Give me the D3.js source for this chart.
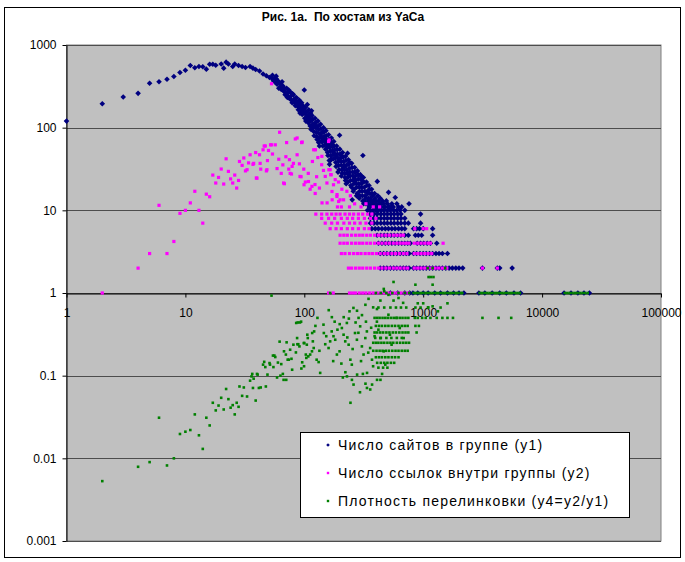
<!DOCTYPE html>
<html>
<head>
<meta charset="utf-8">
<script src="https://cdn.jsdelivr.net/npm/d3@7"></script>
<style>
  body { margin: 0; background: #fff; }
  text { font-family: "Liberation Sans", Arial, sans-serif; }
</style>
</head>
<body>
<svg id="chart" width="685" height="562"></svg>
<script>
// Axis ticks
var xTicks = [1, 10, 100, 1000, 10000, 100000];
var yTicks = [0.001, 0.01, 0.1, 1, 10, 100, 1000];
var yTickLabels = ["0.001", "0.01", "0.1", "1", "10", "100", "1000"];

var seriesNames = [
  "Число сайтов в группе (y1)",
  "Число ссылок внутри группы (y2)",
  "Плотность перелинковки (y4=y2/y1)"
];

// y1: number of sites in a group, single points [x, y]
var sitesPoints = [
  [1,120],[2,195],[3,235],[4,260],[5,345],[6,360],[7,385],[8,415],[9,465],[10,495],[11,565],[12,530],
  [13,550],[14,545],[15,510],[16,585],[17,585],[18,570],[20,590],[21,525],[22,620],[23,590],[25,550],
  [26,590],[28,565],[30,550],[32,535],[35,550],[37,525],[39,505],[42,485],[45,445],[48,425],[51,405],
  [53,400],[54,430],[55,370],[56,390],[57,355],[58,420],[59,335],[60,370],[61,300],[62,345],[63,315],
  [64,290],[65,360],[66,320],[67,280],[68,300],[69,250],[70,265],[71,300],[72,260],[73,240],[74,285],
  [75,225],[76,270],[77,240],[78,215],[79,200],[80,255],[81,250],[82,220],[83,200],[84,185],[85,230],
  [86,230],[87,200],[88,180],[89,165],[90,210],[91,215],[92,190],[93,170],[94,155],[95,200],[96,145],
  [97,185],[98,165],[99,150],[100,285],[101,130],[102,175],[103,120],[104,155],[105,140],[106,190],
  [107,125],[108,115],[109,165],[110,145],[111,130],[112,105],[113,150],[114,95],[115,160],[116,140],
  [117,125],[118,110],[119,100],[120,90],[121,80],[123,130],[124,115],[125,100],[126,88],[127,78],
  [128,72],[130,120],[131,105],[132,95],[133,85],[134,75],[135,68],[137,110],[138,97],[139,86],[140,76],
  [141,67],[143,60],[145,100],[146,88],[147,78],[148,70],[149,62],[151,55],[152,92],[153,80],[154,72],
  [155,64],[156,57],[157,50],[158,46],[160,82],[161,72],[162,65],[163,36],[164,58],[165,52],[167,46],
  [168,42],[169,75],[170,66],[172,59],[173,53],[174,47],[176,42],[177,68],[178,60],[180,54],[181,48],
  [182,43],[184,38],[185,34],[187,60],[189,54],[190,48],[191,43],[193,39],[194,35],[196,31],[198,81],
  [199,55],[200,48],[202,43],[204,39],[205,35],[207,31],[208,28],[210,50],[212,44],[214,39],[216,35],
  [217,31],[219,28],[220,25],[222,45],[224,40],[226,35],[228,31],[229,28],[231,49],[232,25],[233,22],
  [235,41],[237,36],[239,32],[241,29],[243,26],[245,23],[246,20],[250,37],[252,33],[253,13.4],[255,29],
  [257,26],[259,23],[261,21],[263,18],[265,33],[267,29],[269,26],[271,23],[274,21],[276,19],[278,16],
  [280,30],[283,27],[285,24],[288,21],[290,19],[292,17],[294,15],[296,27],[299,24],[302,21],[304,19],
  [306,17],[308,15],[310,13],[311,46],[314,25],[317,22],[320,19],[323,17],[326,15],[328,14],[330,12],
  [333,22],[336,20],[339,17],[342,16],[345,14],[347,13],[350,20],[353,18],[356,16],[359,14],[362,13],
  [365,12],[368,18],[372,16],[376,15],[379,13],[382,12],[386,11],[390,16],[394,14],[398,13],[402,12],
  [406,11],[411,22.4],[415,15],[420,13],[425,12],[430,11],[435,14],[440,12],[445,11],[455,13],[465,12],
  [475,11],[490,13],[500,12],[511,16.5],[520,11],[545,12],[560,11],[582,14.3],[600,12],[620,11],
  [660,11],[760,12],
  [58,390],[63,340],[68,272],[72,232],[78,262],[84,212],[90,182],[96,176],[102,152],[108,136],
  [114,121],[120,108],[126,104],[132,66],[138,79],[144,73],[150,69],[158,61],[166,40],[175,51],
  [185,46],[195,42],[205,26],[215,33],[225,21],[238,27],[250,19],[262,24],[275,15],[290,14],
  [305,23],[320,13],[340,12],[352,11],[372,12],[134,60],[162,40],[192,29],[222,23],[258,17],
  [284,15],[316,12],[92,150],[112,120],[142,88],[172,62],[204,46],[240,38],[270,29],[300,26]
];

// y1 values that repeat along a row: [y, [x...]]
var sitesRows = [
  [11, [355, 380, 410, 440, 470, 505, 540]],
  [10, [340, 360, 380, 400, 420, 445, 470, 500, 530, 565, 600, 640, 700]],
  [9, [360, 385, 410, 440, 470, 500, 535, 570, 610, 650, 950]],
  [8, [360, 385, 410, 440, 470, 500, 535, 570, 610, 650, 700]],
  [7, [360, 385, 410, 440, 470, 500, 535, 570, 610, 650, 700, 750, 950]],
  [6, [370, 395, 420, 450, 480, 510, 545, 580, 620, 660, 700, 830, 880, 930, 1000, 1200]],
  [5, [410, 440, 470, 500, 535, 570, 610, 650, 700, 750, 860, 910, 970, 1200]],
  [4, [420, 450, 480, 510, 545, 580, 620, 660, 700, 740, 780, 890, 950, 1010, 1080, 1150, 1300]],
  [3, [435, 465, 495, 530, 565, 600, 640, 680, 720, 760, 830, 880, 940, 1000, 1060, 1130, 1200,
       1280, 1360, 1450, 1600]],
  [2, [435, 465, 495, 530, 565, 600, 640, 680, 720, 760, 830, 880, 940, 1000, 1060, 1130, 1200,
       1280, 1360, 1450, 1550, 1650, 1760, 1880, 2000, 2150, 3150, 4200, 4400, 5600]],
  [1, [530, 610, 700, 770, 820, 900, 1000, 1100, 1250, 1400, 1600, 1800, 2000, 2200, 2940, 3300,
       3800, 4400, 5000, 5800, 6600, 15300, 17500, 20000, 22500, 25000]]
];

// y2: links inside a group, single points [x, y]
var linksPoints = [
  [2,1],[4,2],[5,3],[6,11.5],[7,3],[8,4.2],[9,9.2],[10,10],[11,12.3],[12,17],[13,10],[14,7],[15,15.7],
  [16,14.6],[17,26.7],[18,21.4],[19,25],[20,31.6],[21,20.8],[22,42],[23,29.6],[24,24],[25,21.4],
  [26,26.7],[27,18.6],[28,23],[28.5,39],[30,35],[31,43],[32,30],[33,31],[34,37.5],[35,47],[37,36],
  [37.5,37],[39,50],[39.5,24.6],[40,24.5],[42,47],[42.5,37],[43,31.5],[45,54],[46,60],[47,60],[48,30],
  [48.5,31],[49,40],[50,53],[52,62],[53,62],[53,340],[54,48],[57,62],[59,32],[61,41.5],[62,88],[64,28],
  [66,35.5],[67,21.4],[68,21],[70,44.5],[71,66],[74,31.5],[75,41],[76,28],[78,27.5],[79,34],[81,37],
  [84,73],[87,47],[87,75],[91,36.5],[92,25.7],[94,25.5],[95,66],[96,67],[99,31.5],[99.5,20.4],
  [102,22],[108,28],[108.5,22.3],[112,18],[116,19.5],[117,39],[120,54],[123,20.5],[123.5,16],[124,54],
  [127,25.5],[130,43.5],[134,18.6],[140,35.6],[140.5,45],[141,12.3],[145,30.4],[150,25.7],[155,21.4],
  [155.5,12.3],[160,68],[161,31],[161.5,71],[165,31],[167,27],[168,27],[171,16.9],[171.5,13.4],
  [176,20.4],[182,23.5],[188,14.7],[188.5,15.5],[194,22],[194.5,12.8],[200,13.4],[207,18],[214,13.4],
  [228,17],[244,15],[190,11],[205,11],[240,11],[265,12],[300,11],[330,12],[380,11],[430,11]
];

// y2 values that repeat along a row: [y, [x...]]
var linksRows = [
  [9, [125, 140, 155, 170, 185, 200, 220, 240, 260, 285, 310, 340, 370]],
  [8, [140, 160, 180, 205, 230, 255, 285, 320, 360, 400]],
  [7, [150, 170, 190, 215, 240, 265, 295, 330, 370]],
  [6, [165, 185, 205, 230, 255, 285, 320, 350, 850, 1000, 1070]],
  [5, [200, 215, 230, 250, 270, 290, 310, 335, 360, 390, 420, 450, 485, 520, 560, 600, 640, 680]],
  [4, [200, 215, 230, 250, 270, 290, 310, 335, 360, 390, 420, 450, 485, 520, 560, 600, 640, 680, 720,
       760, 840, 900, 960, 1030, 1100, 1150, 1470]],
  [3, [205, 220, 240, 260, 280, 300, 325, 350, 375, 405, 435, 470, 505, 545, 585, 630, 680, 730, 840,
       900, 960, 1030, 1100, 1180]],
  [2, [235, 250, 270, 290, 310, 335, 360, 390, 420, 450, 485, 520, 560, 600, 640, 690, 740, 840, 900,
       960, 1030, 1100, 1180, 1260, 1350, 1450, 1580, 3150, 4200]],
  [1, [160, 175, 240, 255, 270, 290, 310, 330, 355, 380, 410, 440, 470, 500, 535, 570, 610, 650, 700,
       750]]
];

// y4 = y2/y1: linking density, single points [x, y]
var densityPoints = [
  [2,0.0053],[4,0.0079],[5,0.009],[6,0.031],[7,0.0082],[8,0.01],[9,0.0197],[10,0.021],[11,0.022],
  [12,0.034],[13,0.019],[14,0.013],[15,0.031],[16,0.025],[17,0.047],[18,0.038],[19,0.0435],[20,0.054],
  [21,0.039],[22,0.069],[23,0.052],[24,0.041],[25,0.044],[26,0.034],[27,0.047],[28,0.042],[28.5,0.074],
  [30,0.057],[31,0.072],[33,0.056],[35,0.087],[36,0.098],[36.5,0.105],[37,0.071],[37.5,0.092],[39,0.05],
  [40,0.105],[40.5,0.103],[41.5,0.071],[43,0.072],[45,0.136],[46,0.147],[47,0.127],[47.5,0.074],
  [49,0.103],[51,0.142],[51.5,0.136],[53,0.93],[54.5,0.175],[55,0.127],[56,0.175],[57,0.168],
  [59,0.095],[60,0.144],[62,0.258],[63,0.1],[64,0.138],[66,0.105],[67,0.089],[67.5,0.197],[70,0.18],
  [70.5,0.089],[71,0.253],[72.5,0.156],[74,0.156],[76,0.206],[78,0.16],[79,0.118],[81,0.237],
  [85,0.191],[85.5,0.434],[87,0.285],[87.5,0.24],[88,0.44],[89,0.24],[91,0.226],[92,0.44],[94,0.45],
  [94.5,0.122],[96,0.145],[99,0.248],[99.5,0.13],[100,0.248],[103,0.18],[104,0.164],[105,0.237],
  [106,0.313],[107,0.285],[108,0.171],[112,0.18],[116,0.197],[116.5,0.328],[120,0.216],[121,0.343],
  [127,0.156],[129,0.5],[132,0.146],[136,0.108],[145,0.414],[146,0.328],[153,0.3],[160,0.216],
  [160.5,0.62],[165,0.26],[170,0.343],[170.5,0.51],[176,0.3],[182,0.272],[188,0.18],[198,0.197],
  [198.5,0.42],[207,0.377],[211,0.095],[214,0.313],[214.5,0.51],[221,0.26],[221.5,0.11],[228,0.434],
  [228.5,0.098],[236,0.237],[237,0.49],[244,0.156],[244.5,0.047],[251,0.136],[251.5,0.089],[259,0.66],
  [259.5,0.078],[267,0.328],[277,0.272],[277.5,0.61],[278,0.103],[286,0.5],[294,0.063],[295,0.395],
  [305,0.226],[305.5,0.54],[311,0.105],[315,0.18],[326,0.285],[326.5,0.72],[327,0.08],[336,0.343],
  [336.5,0.071],[337,0.108],[347,0.85],[358,0.216],[358.5,0.068],[371,0.156],[371.5,0.078],[379,0.13],
  [379.5,0.67],[408,0.45],[408.5,0.64],[409,0.089],[420,0.36],[436,0.285],[436.5,0.81],[437,0.089],
  [451,0.105],[465,0.197],[470,1.05],[480,0.136],[510,0.546],[510.5,0.95],[525,0.313],[542,0.237],
  [563,0.81],[595,0.5],[620,0.87],[635,0.377],[678,0.76],[685,0.285],
  [466,1.12],[563,1.36],[860,1.26],[1110,1.56],[1160,1.56],[1220,1.56],[1200,1.26],
  [1090,2],[1200,2],[1530,2],[900,0.75],[1000,0.75],[1100,0.67],[1200,0.69],[1330,0.6],[1450,0.5],
  [1600,0.75],[1780,0.5],[3150,0.5],[4300,0.5],[5500,0.5],
  [118,0.26],[134,0.2],[150,0.24],[175,0.15],[190,0.36],[205,0.14],[230,0.29],[255,0.21],[285,0.33],
  [300,0.15],[330,0.45],[345,0.19],[365,0.38],[390,0.3],[124,0.4],[180,0.45],[240,0.6],[270,0.44]
];

// y4 values that repeat along a row: [y, [x...]]
var densityRows = [
  [1, [165, 400, 440, 490, 550, 620, 700, 760, 830, 870, 910, 955, 1000, 1050, 1100, 1150, 1210, 1270,
       1330, 1400, 1470, 1540, 1620, 1700, 1790, 1880, 1970, 2070, 2130, 2980, 3130, 3290, 3450, 3620,
       3800, 4000, 4200, 4400, 4620, 4850, 5100, 5350, 5620, 5900, 6200, 6500, 15500, 16300, 17100,
       18000, 18900, 19800, 20800, 21900, 23000, 24200]],
  [0.667, [420, 470, 530, 590, 650, 720, 860, 950, 1100, 1400]],
  [0.5, [390, 410, 430, 455, 480, 505, 535, 565, 600, 635, 670, 710, 750, 850, 900, 980, 1050, 1150,
         1300, 1600]],
  [0.4, [400, 425, 450, 480, 510, 545, 580, 620, 660, 700, 740, 860, 920]],
  [0.333, [390, 410, 435, 460, 490, 520, 555, 590, 630, 670, 710, 750, 880]],
  [0.286, [395, 440, 490, 540, 600, 660]],
  [0.25, [380, 400, 420, 445, 470, 500, 530, 560, 600, 640, 680, 720, 760]],
  [0.2, [380, 405, 430, 455, 485, 515, 550, 585, 620, 660, 700, 740]],
  [0.167, [400, 425, 450, 480, 510, 545, 580, 620]],
  [0.143, [410, 440, 470, 500, 535, 570]],
  [0.125, [420, 460, 500]]
];

function unrow(rows) {
  var out = [];
  rows.forEach(function(r) {
    r[1].forEach(function(xv) { out.push([xv, r[0]]); });
  });
  return out;
}

var sitesData = sitesPoints.concat(unrow(sitesRows));
var linksData = linksPoints.concat(unrow(linksRows));
var densityData = densityPoints.concat(unrow(densityRows));

var svg = d3.select("#chart");

// outer chart frame
svg.append("rect")
  .attr("x", 4.5).attr("y", 7.5)
  .attr("width", 676).attr("height", 550)
  .attr("fill", "#fff")
  .attr("stroke", "#000");

var x = d3.scaleLog().domain([1, 100000]).range([66.5, 661]);
var y = d3.scaleLog().domain([0.001, 1000]).range([541, 45]);

// plot area
svg.append("rect")
  .attr("x", x(1)).attr("y", y(1000))
  .attr("width", x(100000) - x(1))
  .attr("height", y(0.001) - y(1000))
  .attr("fill", "#c0c0c0")
  .attr("stroke", "#808080");

// horizontal gridlines
svg.append("g").selectAll("line")
  .data(yTicks)
  .enter()
  .append("line")
  .attr("x1", x(1)).attr("x2", x(100000))
  .attr("y1", d => Math.round(y(d)) + 0.5)
  .attr("y2", d => Math.round(y(d)) + 0.5)
  .attr("stroke", "#4d4d4d");

// y axis
var yAxis = svg.append("g")
  .attr("transform", `translate(${x(1)},0)`)
  .call(d3.axisLeft(y).tickValues(yTicks).tickSize(4).tickSizeOuter(0)
    .tickFormat((d, i) => yTickLabels[i]));
yAxis.select(".domain").attr("stroke", "#000");
yAxis.selectAll("text")
  .attr("x", -10)
  .attr("font-size", 12)
  .attr("font-family", "Liberation Sans, Arial, sans-serif")
  .attr("fill", "#000");

// x axis crosses at y = 1
var xAxis = svg.append("g")
  .attr("transform", `translate(0,${Math.round(y(1)) + 0.5})`)
  .call(d3.axisBottom(x).tickValues(xTicks).tickSize(4).tickSizeOuter(0)
    .tickFormat(d => String(d)));
xAxis.select(".domain").attr("stroke", "#000");
xAxis.selectAll("text")
  .attr("y", 15)
  .attr("font-size", 12)
  .attr("font-family", "Liberation Sans, Arial, sans-serif")
  .attr("fill", "#000");

// markers
function diamond(s) {
  return `M0,${-s}L${s},0L0,${s}L${-s},0Z`;
}

var plot = svg.append("g");

plot.selectAll(".sites")
  .data(sitesData)
  .enter()
  .append("path")
  .classed("sites", true)
  .attr("d", diamond(2.8))
  .attr("transform", d => `translate(${x(d[0])},${y(d[1])})`)
  .attr("fill", "#000080");

plot.selectAll(".links")
  .data(linksData)
  .enter()
  .append("rect")
  .classed("links", true)
  .attr("x", d => x(d[0]) - 1.6)
  .attr("y", d => y(d[1]) - 1.6)
  .attr("width", 3.2).attr("height", 3.2)
  .attr("fill", "#ff00ff");

plot.selectAll(".density")
  .data(densityData)
  .enter()
  .append("rect")
  .classed("density", true)
  .attr("x", d => x(d[0]) - 1.3)
  .attr("y", d => y(d[1]) - 1.3)
  .attr("width", 2.6).attr("height", 2.6)
  .attr("fill", "#008000");

// title
svg.append("text")
  .attr("x", 343).attr("y", 21)
  .attr("text-anchor", "middle")
  .attr("font-size", 12)
  .attr("font-weight", "bold")
  .style("white-space", "pre")
  .text("Рис. 1a.  По хостам из YaCa");

// legend
var legend = svg.append("g");
legend.append("rect")
  .attr("x", 300.5).attr("y", 432.5)
  .attr("width", 329).attr("height", 85)
  .attr("fill", "#fff")
  .attr("stroke", "#000");

var rows = legend.selectAll(".entry")
  .data(seriesNames)
  .enter()
  .append("g")
  .classed("entry", true)
  .attr("transform", (d, i) => `translate(328,${445 + i * 28})`);

rows.each(function(d, i) {
  var g = d3.select(this);
  if (i === 0) {
    g.append("path").attr("d", diamond(1.8)).attr("fill", "#000080");
  } else if (i === 1) {
    g.append("rect").attr("x", -1.2).attr("y", -1.2).attr("width", 2.4).attr("height", 2.4)
      .attr("fill", "#ff00ff");
  } else {
    g.append("rect").attr("x", -1.2).attr("y", -1.2).attr("width", 2.4).attr("height", 2.4)
      .attr("fill", "#008000");
  }
});

rows.append("text")
  .attr("x", 10)
  .attr("y", 5)
  .attr("font-size", 14)
  .attr("letter-spacing", 1.2)
  .text(d => d);
</script>
</body>
</html>
